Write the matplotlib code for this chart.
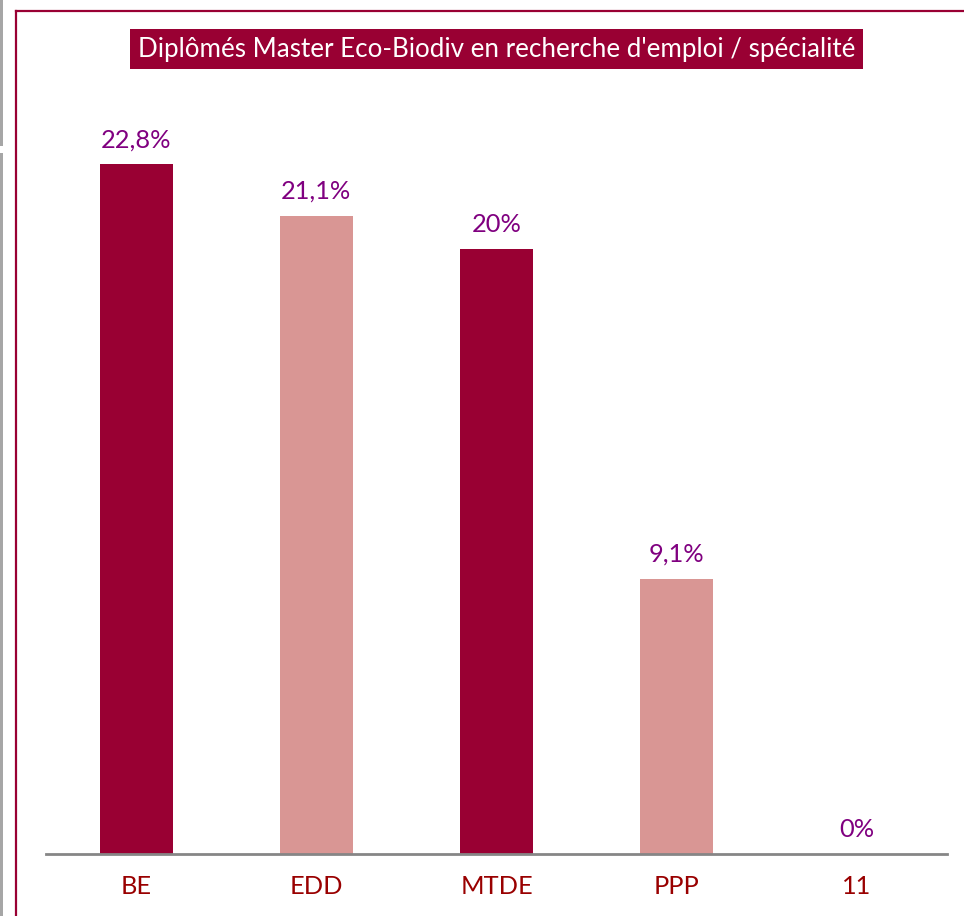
import matplotlib.pyplot as plt
from matplotlib.patches import Rectangle
from matplotlib.lines import Line2D

# data
categories = ['BE', 'EDD', 'MTDE', 'PPP', '11']
values = [22.8, 21.1, 20.0, 9.1, 0.0]
value_labels = ['22,8%', '21,1%', '20%', '9,1%', '0%']
title = "Diplômés Master Eco-Biodiv en recherche d'emploi / spécialité"

dark = '#990033'
pink = '#D99694'
bar_colors = [dark, pink, dark, pink, dark]

plt.rcParams['font.family'] = ['Lato', 'DejaVu Sans']

fig = plt.figure(figsize=(9.64, 9.16), dpi=100)
W, H = 964, 916

# gray strip on the far left, broken in two
fig.add_artist(Rectangle((0, 1 - 146 / H), 3 / W, 146 / H, transform=fig.transFigure,
                         color='#A6A6A6', lw=0))
fig.add_artist(Rectangle((0, 0), 3 / W, 1 - 153 / H, transform=fig.transFigure,
                         color='#A6A6A6', lw=0))
# dark red frame (left + top edges)
fig.add_artist(Line2D([16 / W, 16 / W], [0, 1 - 11 / H], transform=fig.transFigure,
                      color=dark, lw=1.6))
fig.add_artist(Line2D([16 / W, 1], [1 - 11 / H, 1 - 11 / H], transform=fig.transFigure,
                      color=dark, lw=1.6))

ax = fig.add_axes([46 / W, (H - 854) / H, 901 / W, 756.25 / H])
x = range(len(categories))
bars = ax.bar(x, values, width=0.405, color=bar_colors)
ax.set_xlim(-0.5, len(categories) - 0.5)
ax.set_ylim(0, 25)

for b, lab in zip(bars, value_labels):
    ax.annotate(lab, (b.get_x() + b.get_width() / 2, b.get_height()),
                xytext=(0, 13), textcoords='offset pixels', ha='center', va='bottom',
                color='#800080', fontsize=18.3)

ax.set_xticks(list(x))
ax.set_xticklabels(categories, color='#990000', fontsize=18.3)
ax.tick_params(axis='x', length=0, pad=15)
ax.set_yticks([])
for s in ['top', 'right', 'left']:
    ax.spines[s].set_visible(False)
ax.spines['bottom'].set_color('#868686')
ax.spines['bottom'].set_linewidth(2)

fig.text(496.5 / W, 1 - 49 / H, title, ha='center', va='center', color='white',
         fontsize=18.7,
         bbox=dict(boxstyle='square,pad=0.3', facecolor=dark, edgecolor='none'))

fig.savefig('out.png', dpi=100)
